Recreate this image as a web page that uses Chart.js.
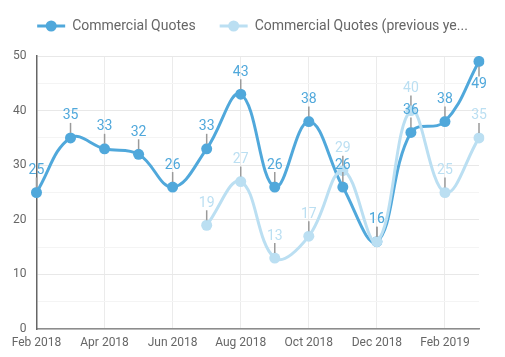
<!DOCTYPE html>
<html>
<head>
<meta charset="utf-8">
<script src="https://cdn.jsdelivr.net/npm/chart.js@4"></script>
<style>
html,body{margin:0;padding:0;background:#fff;}
#wrap{width:505px;height:357px;}
</style>
</head>
<body>
<div id="wrap"><canvas id="c" width="505" height="357"></canvas></div>
<script>
const months = ["Feb 2018","Mar 2018","Apr 2018","May 2018","Jun 2018","Jul 2018","Aug 2018","Sep 2018","Oct 2018","Nov 2018","Dec 2018","Jan 2019","Feb 2019","Mar 2019"];
const quotes = [25,35,33,32,26,33,43,26,38,26,16,36,38,49];
const quotesPrev = [null,null,null,null,null,19,27,13,17,29,16,40,25,35];
const seriesNames = ["Commercial Quotes","Commercial Quotes (previous year)"];
const legendNames = ["Commercial Quotes","Commercial Quotes (previous ye..."];
const yTicks = [0,10,20,30,40,50];

const DARK = "#50a8db";
const LIGHT = "#bbdff2";

const labelPlugin = {
  id: "valueLabels",
  afterDatasetsDraw(chart) {
    const ctx = chart.ctx;
    const area = chart.chartArea;
    [1,0].forEach(di => {
      const ds = chart.data.datasets[di];
      const meta = chart.getDatasetMeta(di);
      meta.data.forEach((pt, j) => {
        const v = ds.data[j];
        if (v === null || v === undefined) return;
        const x = pt.x, y = pt.y;
        const flip = (y - 30) < area.top;
        ctx.save();
        ctx.strokeStyle = "#9a9a9a";
        ctx.lineWidth = 1.5;
        ctx.beginPath();
        if (flip) { ctx.moveTo(x, y + 5); ctx.lineTo(x, y + 15); }
        else { ctx.moveTo(x, y - 5); ctx.lineTo(x, y - 15); }
        ctx.stroke();
        ctx.fillStyle = ds.borderColor;
        ctx.font = "14px Roboto";
        ctx.textAlign = "center";
        ctx.textBaseline = "middle";
        ctx.fillText(String(v), x, flip ? y + 23 : y - 22);
        ctx.restore();
      });
    });
  }
};

const legendPlugin = {
  id: "lineLegend",
  afterDraw(chart) {
    const ctx = chart.ctx;
    ctx.save();
    ctx.font = "14px Roboto";
    const gap = 24, box = 28, tpad = 7;
    const widths = legendNames.map(t => box + tpad + ctx.measureText(t).width);
    const total = widths.reduce((a, b) => a + b, 0) + gap * (widths.length - 1);
    let x = (chart.width - total) / 2;
    const y = 26;
    legendNames.forEach((t, i) => {
      const col = chart.data.datasets[i].borderColor;
      ctx.strokeStyle = col;
      ctx.lineWidth = 3;
      ctx.beginPath();
      ctx.moveTo(x, y);
      ctx.lineTo(x + box, y);
      ctx.stroke();
      ctx.fillStyle = col;
      ctx.beginPath();
      ctx.arc(x + box / 2, y, 5.5, 0, Math.PI * 2);
      ctx.fill();
      ctx.fillStyle = "#666";
      ctx.textAlign = "left";
      ctx.textBaseline = "middle";
      ctx.fillText(t, x + box + tpad, y);
      x += widths[i] + gap;
    });
    ctx.restore();
  }
};

new Chart(document.getElementById("c"), {
  type: "line",
  data: {
    labels: months,
    datasets: [
      {
        label: seriesNames[0],
        data: quotes,
        borderColor: DARK,
        backgroundColor: DARK,
        pointBackgroundColor: DARK,
        pointBorderColor: DARK,
        borderWidth: 3,
        pointRadius: 5.5,
        pointBorderWidth: 0,
        tension: 0.4,
        fill: false,
        order: 1
      },
      {
        label: seriesNames[1],
        data: quotesPrev,
        borderColor: LIGHT,
        backgroundColor: LIGHT,
        pointBackgroundColor: LIGHT,
        pointBorderColor: LIGHT,
        borderWidth: 3,
        pointRadius: 5.5,
        pointBorderWidth: 0,
        tension: 0.4,
        fill: false,
        order: 0
      }
    ]
  },
  options: {
    responsive: false,
    animation: false,
    devicePixelRatio: 1,
    layout: { padding: { left: 3, right: 26, top: 56, bottom: 0 } },
    plugins: {
      tooltip: { enabled: false },
      legend: { display: false }
    },
    scales: {
      x: {
        offset: false,
        grid: { color: "#ebebeb", drawTicks: false, lineWidth: 1 },
        border: { color: "#8c8c8c", width: 1.5 },
        ticks: {
          autoSkip: false,
          maxRotation: 0,
          padding: 8,
          color: "#666",
          font: { family: "Roboto", size: 12, lineHeight: 1.0 },
          callback(val, idx) { return idx % 2 === 0 ? months[idx] : null; }
        }
      },
      y: {
        min: 0,
        max: 50,
        grid: {
          drawTicks: false,
          color(c) { return c.tick && yTicks.includes(c.tick.value) ? "#e8e8e8" : "#f4f4f4"; }
        },
        border: { color: "#666", width: 1.5 },
        ticks: {
          stepSize: 5,
          padding: 10,
          color: "#666",
          font: { family: "Roboto", size: 12 },
          callback(v) { return yTicks.includes(v) ? String(v) : ""; }
        }
      }
    }
  },
  plugins: [labelPlugin, legendPlugin]
});
</script>
</body>
</html>
